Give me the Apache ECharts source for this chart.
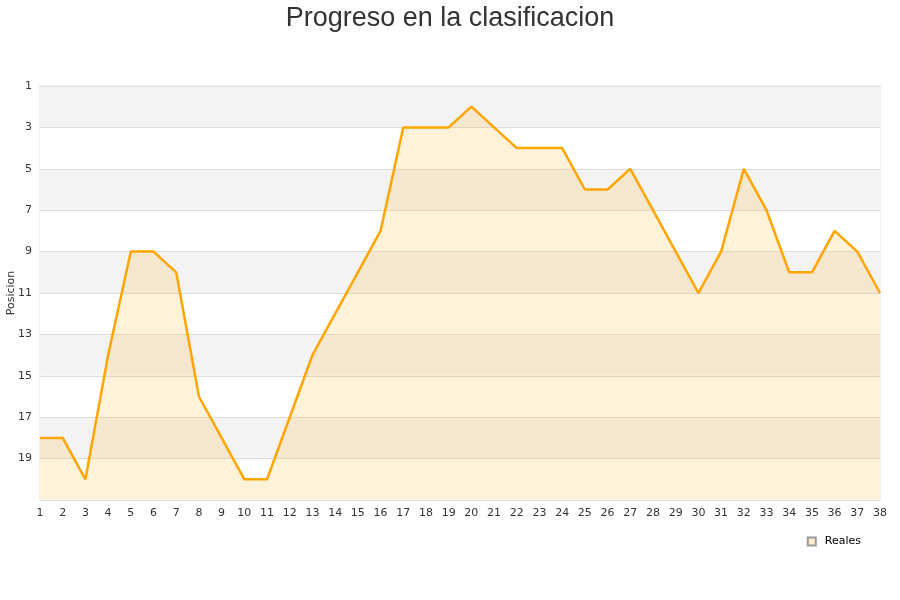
<!DOCTYPE html>
<html><head><meta charset="utf-8">
<script src="https://cdn.jsdelivr.net/npm/echarts@6/dist/echarts.min.js"></script>
<style>html,body{margin:0;padding:0;background:#fff}#c{width:900px;height:600px}</style>
</head><body><div id="c"></div>
<script>
const categories = ['1','2','3','4','5','6','7','8','9','10','11','12','13','14','15','16','17','18','19','20','21','22','23','24','25','26','27','28','29','30','31','32','33','34','35','36','37','38'];
const reales = [18,18,20,14,9,9,10,16,18,20,20,17,14,12,10,8,3,3,3,2,3,4,4,4,6,6,5,7,9,11,9,5,7,10,10,8,9,11];
const chart = echarts.init(document.getElementById('c'));
chart.setOption({
  animation:false,
  title:{text:'Progreso en la clasificacion',left:'center',top:0,textStyle:{fontFamily:'Liberation Sans',fontSize:27,fontWeight:'normal',color:'#333'}},
  grid:{left:40,right:20,top:86,bottom:100,show:true,borderColor:'#ddd',borderWidth:1,containLabel:false,outerBoundsMode:'none'},
  legend:{right:34,top:531,itemWidth:8,itemHeight:8,icon:'rect',textStyle:{fontFamily:'DejaVu Sans',fontSize:11,color:'#000',padding:[0,0,0,4]},data:['Reales']},
  xAxis:{type:'category',data:categories,boundaryGap:false,axisLine:{show:false},axisTick:{show:false},
    axisLabel:{fontFamily:'DejaVu Sans',fontSize:11,color:'#333',margin:8,interval:0}},
  yAxis:{type:'value',inverse:true,min:1,max:21,interval:2,name:'Posicion',nameLocation:'middle',nameGap:23,nameMoveOverlap:false,
    nameTextStyle:{fontFamily:'DejaVu Sans',fontSize:11,color:'#333'},
    axisLine:{show:false},axisTick:{show:false},
    axisLabel:{fontFamily:'DejaVu Sans',fontSize:11,color:'#333',margin:8,formatter:v=>v===21?'':v},
    splitLine:{lineStyle:{color:'#ddd'}},
    splitArea:{show:true,areaStyle:{color:['#f3f3f3','#ffffff']}}},
  series:[{name:'Reales',type:'line',data:reales,symbol:'none',
    lineStyle:{color:'#ffa500',width:2.5},itemStyle:{color:'#ffeccc',borderColor:'#999',borderWidth:1},
    areaStyle:{color:'rgba(255,165,0,0.21)',origin:'end'}}]
});
</script></body></html>
